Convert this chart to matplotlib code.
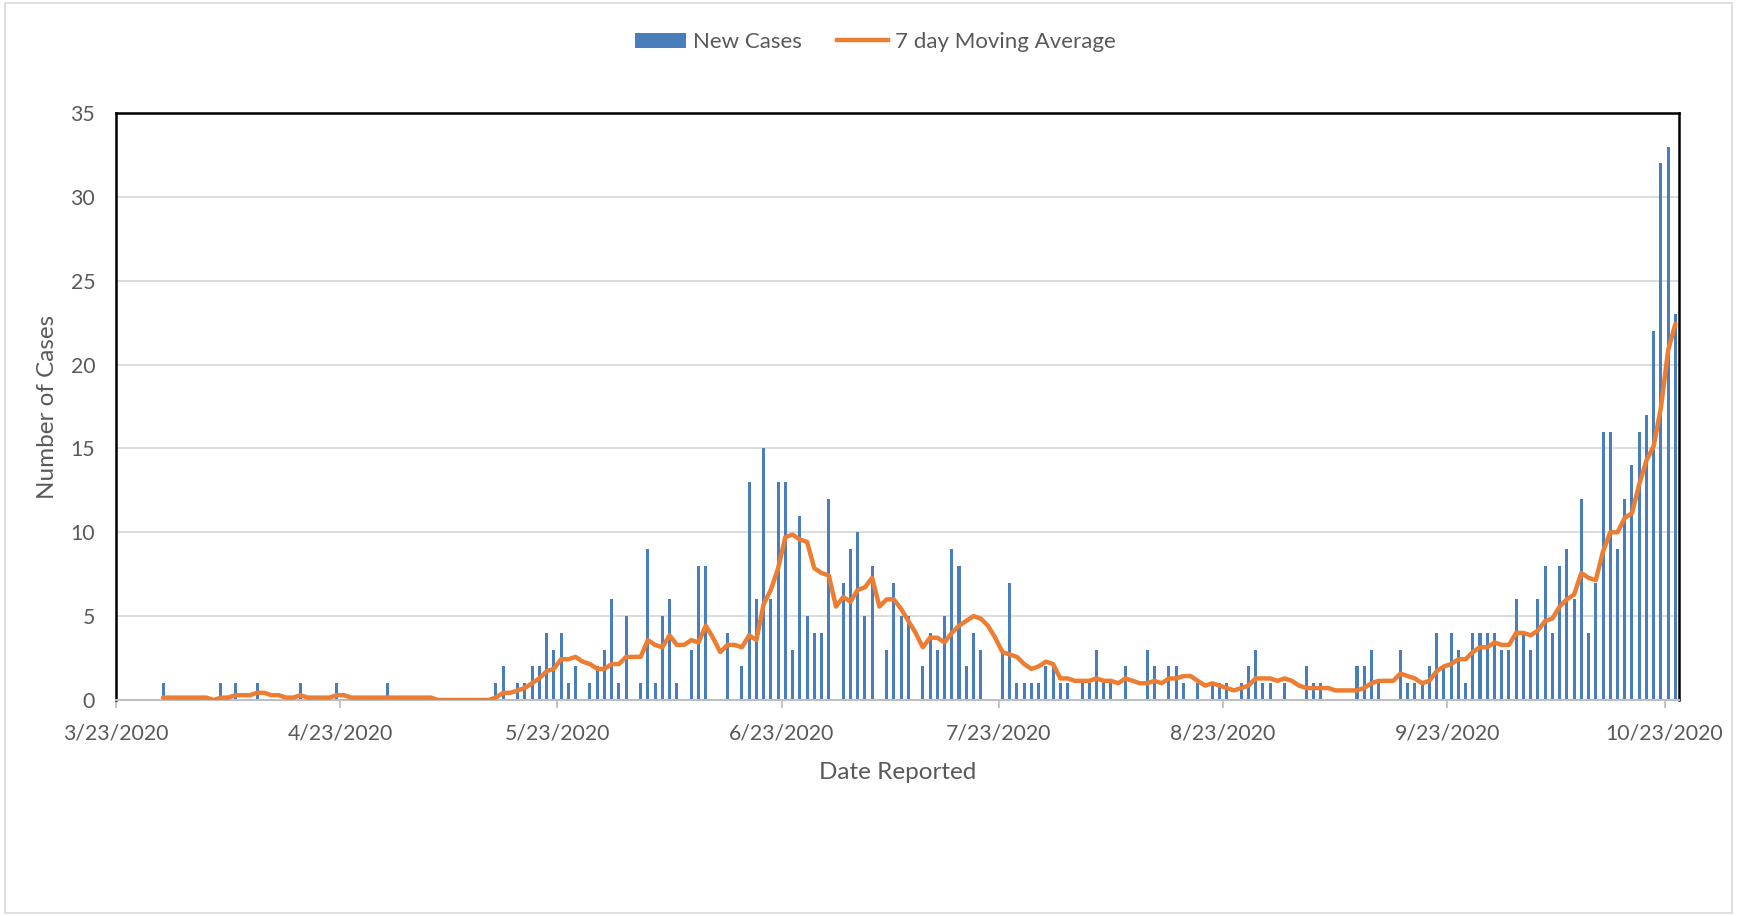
import matplotlib
matplotlib.use("Agg")
import matplotlib.pyplot as plt
import matplotlib.dates as mdates
from matplotlib.patches import Rectangle, Patch
from matplotlib.lines import Line2D
import numpy as np
import pandas as pd

# ── Data ──────────────────────────────────────────────────────────────────────
start_date = "2020-03-23"

cases_mar = [0, 0, 0, 0, 0, 0, 1, 0, 0]                      # 3/23 - 3/31
cases_apr = [0, 0, 0, 0, 0, 1, 0, 1, 0, 0, 1, 0, 0, 0, 0,
             0, 1, 0, 0, 0, 0, 1, 0, 0, 0, 0, 0, 0, 1, 0]
cases_may = [0, 0, 0, 0, 0, 0, 0, 0, 0, 0, 0, 0, 0, 1, 2, 0,
             1, 1, 2, 2, 4, 3, 4, 1, 2, 0, 1, 2, 3, 6, 1]
cases_jun = [5, 0, 1, 9, 1, 5, 6, 1, 0, 3, 8, 8, 0, 0, 4,
             0, 2, 13, 6, 15, 6, 13, 13, 3, 11, 5, 4, 4, 12, 0]
cases_jul = [7, 9, 10, 5, 8, 0, 3, 7, 5, 5, 0, 2, 4, 3, 5, 9,
             8, 2, 4, 3, 0, 0, 3, 7, 1, 1, 1, 1, 2, 2, 1]
cases_aug = [1, 0, 1, 1, 3, 1, 1, 0, 2, 0, 0, 3, 2, 0, 2, 2,
             1, 0, 1, 0, 1, 1, 1, 0, 1, 2, 3, 1, 1, 0, 1]
cases_sep = [0, 0, 2, 1, 1, 0, 0, 0, 0, 2, 2, 3, 1, 0, 0,
             3, 1, 1, 1, 2, 4, 2, 4, 3, 1, 4, 4, 4, 4, 3]
cases_oct = [3, 6, 4, 3, 6, 8, 4, 8, 9, 6, 12, 4, 7, 16,
             16, 9, 12, 14, 16, 17, 22, 32, 33, 23]       # 10/1 - 10/24

new_cases = (cases_mar + cases_apr + cases_may + cases_jun +
             cases_jul + cases_aug + cases_sep + cases_oct)
dates = pd.date_range(start_date, periods=len(new_cases), freq="D")
series = pd.Series(new_cases, index=dates, dtype=float)
moving_avg = series.rolling(7).mean()

y_ticks = [0, 5, 10, 15, 20, 25, 30, 35]

BAR_COLOR = "#4a7ebb"
LINE_COLOR = "#ed7d31"
TEXT_COLOR = "#595959"

plt.rcParams["font.family"] = ["Lato", "DejaVu Sans"]

# ── Figure ───────────────────────────────────────────────────────────────────
fig = plt.figure(figsize=(17.37, 9.16), dpi=100)
ax = fig.add_axes([116 / 1737, 1 - 700 / 916, (1679 - 116) / 1737, (700 - 113) / 916])

half_day = pd.Timedelta(hours=12)
ax.bar(dates + half_day, series.values, width=0.42, color=BAR_COLOR, zorder=2)
ax.plot(dates + half_day, moving_avg.values, color=LINE_COLOR, lw=3.2,
        solid_capstyle="round", solid_joinstyle="round", zorder=3)

ax.set_xlim(dates[0], dates[-1] + pd.Timedelta(days=1))
ax.set_ylim(0, 35)
ax.set_yticks(y_ticks)
ax.grid(axis="y", color="#d9d9d9", lw=1.3, zorder=0)
ax.set_axisbelow(True)

ax.xaxis.set_major_locator(mdates.MonthLocator(bymonthday=23))
ax.xaxis.set_major_formatter(mdates.DateFormatter("%-m/%-d/%Y"))
ax.tick_params(axis="x", colors="#bfbfbf", length=6, width=1.3, labelcolor=TEXT_COLOR,
               labelsize=15.3, pad=11)
ax.tick_params(axis="y", length=0, labelcolor=TEXT_COLOR, labelsize=15.3, pad=15)

for side in ("top", "left", "right"):
    ax.spines[side].set_color("black")
    ax.spines[side].set_linewidth(1.8)
ax.spines["bottom"].set_color("#bfbfbf")
ax.spines["bottom"].set_linewidth(1.5)

ax.set_xlabel("Date Reported", fontsize=17.5, color=TEXT_COLOR, labelpad=13)
ax.set_ylabel("Number of Cases", fontsize=17.5, color=TEXT_COLOR, labelpad=9)

handles = [
    Patch(facecolor=BAR_COLOR, label="New Cases"),
    Line2D([0], [0], color=LINE_COLOR, lw=3.2, label="7 day Moving Average"),
]
leg = fig.legend(handles=handles, loc="center", bbox_to_anchor=(0.504, 0.954), ncol=2,
                 frameon=False, fontsize=16, handlelength=2.3, columnspacing=1.6,
                 handletextpad=0.3)
for t in leg.get_texts():
    t.set_color(TEXT_COLOR)

# chart area border
fig.patches.append(Rectangle((0.003, 0.003), 0.994, 0.994, transform=fig.transFigure,
                             fill=False, edgecolor="#d9d9d9", lw=1.2))

fig.savefig("out.png", dpi=100)
print("Saved: out.png")
